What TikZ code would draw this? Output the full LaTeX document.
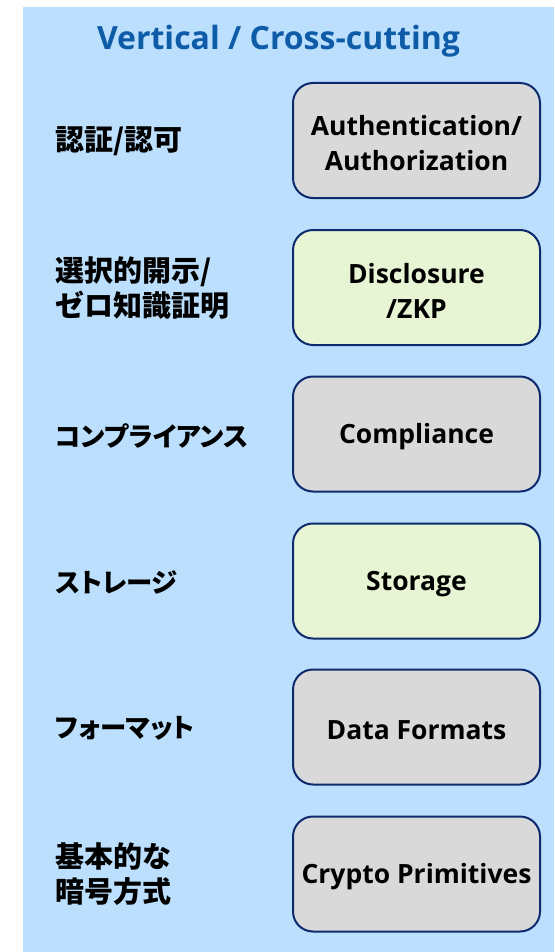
\documentclass[tikz,border=0pt]{standalone}
\usepackage{fontspec}
\setmainfont{Open Sans}
\newfontfamily\jpfont{Noto Sans CJK JP}
\newfontfamily\jpkana[RawFeature=+palt]{Noto Sans CJK JP}
\usetikzlibrary{positioning}
\definecolor{bgblue}{RGB}{187,223,252}
\definecolor{titleblue}{RGB}{14,92,168}
\definecolor{navy}{RGB}{14,42,110}
\definecolor{boxgray}{RGB}{217,217,217}
\definecolor{boxgreen}{RGB}{231,245,212}
\tikzset{
  cbox/.style={draw=navy, line width=2pt, rounded corners=20pt, minimum width=247pt, minimum height=115pt, inner sep=0pt},
  graybox/.style={cbox, fill=boxgray},
  greenbox/.style={cbox, fill=boxgreen},
  btext/.style={align=center, font=\fontsize{26.5}{35}\selectfont\bfseries, text=black, inner sep=0pt, yshift=-3pt},
  jlabel/.style={anchor=west, align=left, font=\jpfont\fontsize{29}{35}\selectfont\bfseries, text=black, inner sep=0pt},
  klabel/.style={anchor=west, align=left, font=\jpkana\fontsize{26.4}{35}\selectfont\bfseries, text=black, inner sep=0pt}
}
\begin{document}
\begin{tikzpicture}[x=1pt,y=-1pt]
\useasboundingbox (0,0) rectangle (554,952);
\fill[bgblue] (23,7) rectangle (554,952);
\node[font=\fontsize{32}{38}\selectfont\bfseries, text=titleblue] (title) at (278.5,41) {Vertical / Cross-cutting};
\node[graybox] (auth) at (416.5,140.5) {};
\node[greenbox] (disc) at (416.5,287.5) {};
\node[graybox] (comp) at (416.5,434) {};
\node[greenbox] (stor) at (416.5,581) {};
\node[graybox] (fmt) at (416.5,727) {};
\node[graybox] (cry) at (416.5,874) {};
\node[btext] (auth-t) at (auth) {Authentication/\\Authorization};
\node[btext] (disc-t) at (disc) {Disclosure\\/ZKP};
\node[btext] (comp-t) at (comp) {Compliance};
\node[btext] (stor-t) at (stor) {Storage};
\node[btext] (fmt-t) at (fmt) {Data Formats};
\node[btext] (cry-t) at (cry) {Crypto Primitives};
\node[jlabel] (lauth) at (55,141) {認証/認可};
\node[jlabel] (ldisc) at (55,288) {選択的開示/\\ゼロ知識証明};
\node[klabel] (lcomp) at (55,436) {コンプライアンス};
\node[klabel] (lstor) at (55,582) {ストレージ};
\node[klabel] (lfmt) at (55,728) {フォーマット};
\node[jlabel] (lcry) at (55,874) {基本的な\\暗号方式};
\end{tikzpicture}
\end{document}
